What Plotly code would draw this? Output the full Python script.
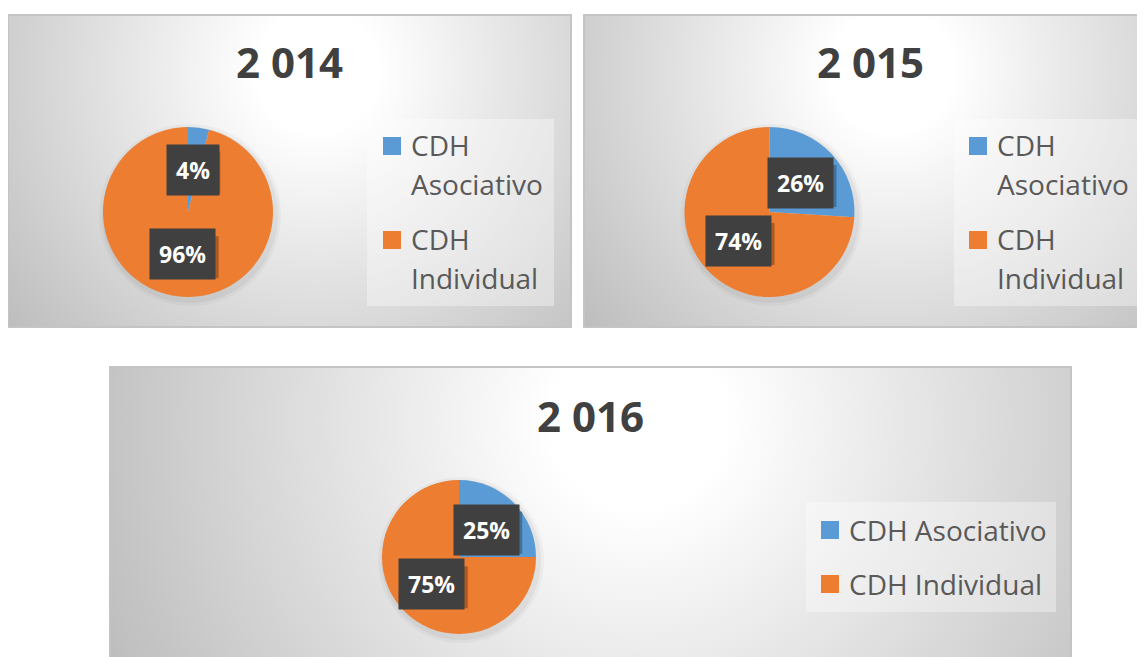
import base64
import numpy as np
import plotly.graph_objects as go

# ---------------- data ----------------
years = ["2 014", "2 015", "2 016"]
categories = ["CDH Asociativo", "CDH Individual"]
asociativo = [4, 26, 25]
individual = [96, 74, 75]
colors = ["#5B9BD5", "#ED7D31"]

# ---------------- layout geometry (page pixels) ----------------
OFF = 8                      # default page body margin
W, H = 1145 - OFF, 657 - OFF  # figure size


def px(x):
    return (x - OFF) / W


def py(y):
    return 1 - (y - OFF) / H


panels = [
    dict(x0=8, x1=571, y0=15, y1=327, cx=188, cy=212, r=85, tx=289, ty=62,
         box=(367, 119, 554, 306), sqx=383, textx=409, wrap=True),
    dict(x0=584, x1=1144, y0=15, y1=327, cx=769.5, cy=212, r=85, tx=870, ty=62,
         box=(954, 119, 1138, 306), sqx=969, textx=995, wrap=True),
    dict(x0=110, x1=1071, y0=367, y1=665, cx=459, cy=557, r=77, tx=590, ty=415,
         box=(806, 502, 1056, 612), sqx=821, textx=847, wrap=False),
]


def grad_uri(w, h):
    cx, cy = 0.55 * w, 0.18 * h
    r = np.hypot(max(cx, w - cx), max(cy, h - cy))
    svg = (
        f'<svg xmlns="http://www.w3.org/2000/svg" width="{w}" height="{h}" '
        f'viewBox="0 0 {w} {h}" preserveAspectRatio="none"><defs>'
        f'<radialGradient id="g" gradientUnits="userSpaceOnUse" cx="{cx:.1f}" cy="{cy:.1f}" r="{r:.1f}">'
        '<stop offset="0" stop-color="#ffffff"/><stop offset="0.15" stop-color="#ffffff"/>'
        '<stop offset="1" stop-color="#bdbdbd"/></radialGradient></defs>'
        f'<rect width="{w}" height="{h}" fill="url(#g)"/></svg>'
    )
    return "data:image/svg+xml;base64," + base64.b64encode(svg.encode()).decode()


fig = go.Figure()
images, shapes, annotations = [], [], []
FONT = "Open Sans"

for i, p in enumerate(panels):
    vals = [asociativo[i], individual[i]]
    # background panel
    images.append(dict(source=grad_uri(p["x1"] - p["x0"], p["y1"] - p["y0"]),
                       xref="paper", yref="paper", x=px(p["x0"]), y=py(p["y0"]),
                       sizex=(p["x1"] - p["x0"]) / W, sizey=(p["y1"] - p["y0"]) / H,
                       xanchor="left", yanchor="top", sizing="stretch", layer="below"))
    shapes.append(dict(type="rect", xref="paper", yref="paper",
                       x0=px(p["x0"]), x1=px(p["x1"]), y0=py(p["y1"]), y1=py(p["y0"]),
                       line=dict(color="#c4c4c4", width=2), fillcolor="rgba(0,0,0,0)",
                       layer="below"))
    # soft pie shadow
    for k, a in [(6, 0.03), (3, 0.045)]:
        shapes.append(dict(type="circle", xref="paper", yref="paper",
                           x0=px(p["cx"] - p["r"] - k + 2), x1=px(p["cx"] + p["r"] + k + 2),
                           y0=py(p["cy"] + p["r"] + k + 3), y1=py(p["cy"] - p["r"] - k + 3),
                           line=dict(width=0), fillcolor=f"rgba(0,0,0,{a})", layer="below"))
    fig.add_trace(go.Pie(
        labels=categories, values=vals, sort=False, direction="clockwise", rotation=0,
        marker=dict(colors=colors, line=dict(width=0)),
        textinfo="none", hoverinfo="label+percent",
        domain=dict(x=[px(p["cx"] - p["r"]), px(p["cx"] + p["r"])],
                    y=[py(p["cy"] + p["r"]), py(p["cy"] - p["r"])]),
        showlegend=False, name=years[i],
    ))
    # title
    annotations.append(dict(text=f"<b>{years[i]}</b>", x=px(p["tx"]), y=py(p["ty"]),
                            xref="paper", yref="paper", showarrow=False,
                            xanchor="center", yanchor="middle",
                            font=dict(family=FONT, size=42, color="#404040")))
    # legend box
    bx0, by0, bx1, by1 = p["box"]
    shapes.append(dict(type="rect", xref="paper", yref="paper",
                       x0=px(bx0), x1=px(bx1), y0=py(by1), y1=py(by0),
                       line=dict(width=0), fillcolor="rgba(255,255,255,0.35)", layer="below"))
    for j, (cat, col) in enumerate(zip(categories, colors)):
        if p["wrap"]:
            sq_top = by0 + 18 + j * 94
            lines = cat.split(" ")
            line_ys = [sq_top + 8 + 39 * n for n in range(len(lines))]
        else:
            sq_top = by0 + 19 + j * 54
            lines = [cat]
            line_ys = [sq_top + 9]
        shapes.append(dict(type="rect", xref="paper", yref="paper",
                           x0=px(p["sqx"]), x1=px(p["sqx"] + 18),
                           y0=py(sq_top + 18), y1=py(sq_top),
                           line=dict(width=0), fillcolor=col))
        for ln, ly in zip(lines, line_ys):
            annotations.append(dict(text=ln, x=px(p["textx"]), y=py(ly), xref="paper",
                                    yref="paper", showarrow=False, xanchor="left",
                                    yanchor="middle",
                                    font=dict(family=FONT, size=28, color="#595959")))
    # data labels at mid-angle of each slice, half radius
    total = sum(vals)
    cum = np.cumsum([0] + vals[:-1])
    for v, c0 in zip(vals, cum):
        th = 2 * np.pi * (c0 + v / 2) / total
        lx = p["cx"] + 0.5 * p["r"] * np.sin(th)
        ly = p["cy"] - 0.5 * p["r"] * np.cos(th)
        label = f"{round(100 * v / total)}%"
        bw, bh = 18 * len(label) + 12, 42
        # drop shadow of the label box
        shapes.append(dict(type="rect", xref="paper", yref="paper",
                           x0=px(lx - bw / 2 + 3), x1=px(lx + bw / 2 + 3),
                           y0=py(ly + bh / 2 + 3), y1=py(ly - bh / 2 + 3),
                           line=dict(width=0), fillcolor="rgba(0,0,0,0.28)"))
        annotations.append(dict(text=f"<b>{label}</b>", x=float(px(lx)), y=float(py(ly)),
                                xref="paper", yref="paper", showarrow=False,
                                xanchor="center", yanchor="middle", borderpad=9,
                                font=dict(family=FONT, size=23, color="#ffffff"),
                                bgcolor="#404040"))

fig.update_layout(
    width=W, height=H, margin=dict(l=0, r=0, t=0, b=0),
    paper_bgcolor="#ffffff", plot_bgcolor="#ffffff",
    images=images, shapes=shapes, annotations=annotations,
)

fig.write_html("out.html")
